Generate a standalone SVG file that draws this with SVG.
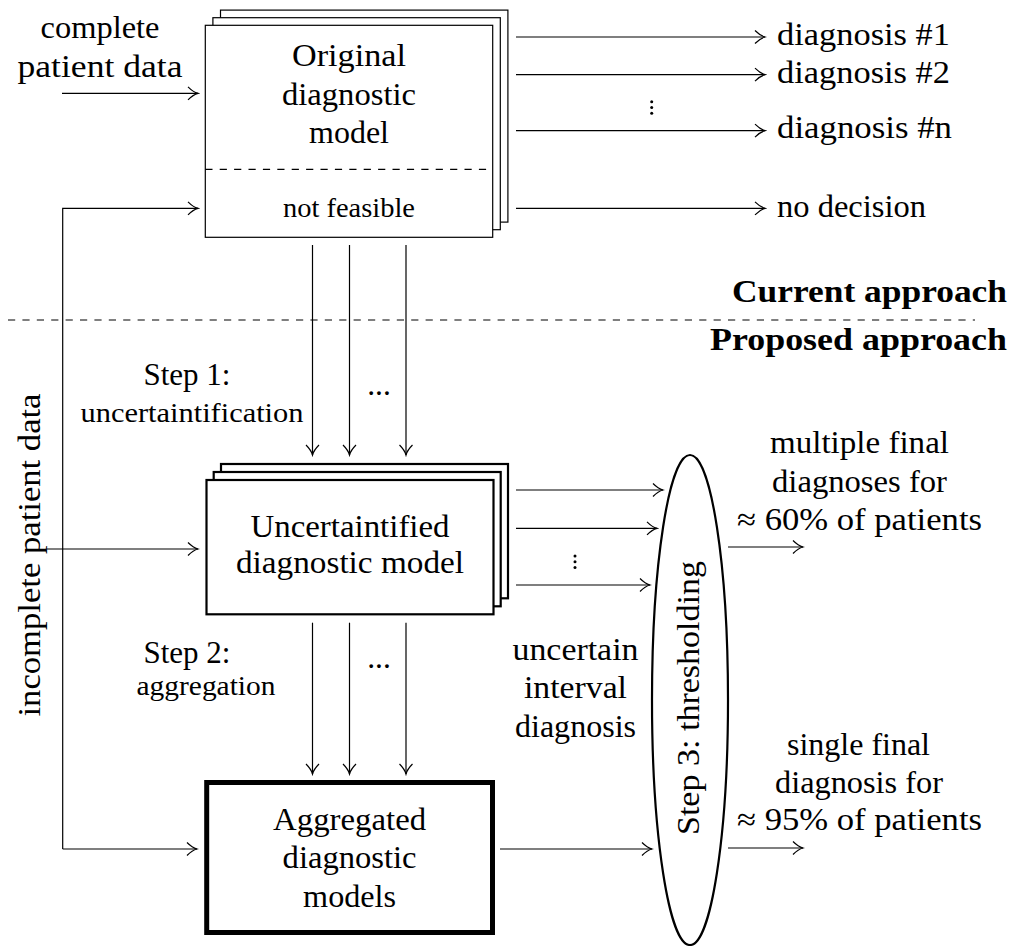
<svg xmlns="http://www.w3.org/2000/svg" width="1014" height="946" viewBox="0 0 1014 946">
<style>
text{font-family:"Liberation Serif","Times New Roman",serif;fill:#000}
.n{font-size:31.5px}
.s{font-size:28px}
.b{font-size:31.5px;font-weight:bold}
.m{text-anchor:middle}
.e{text-anchor:end}
.box{fill:#fff;stroke:#000}
.thin{stroke-width:1.2}
.thick{stroke-width:2.2}
.ultra{stroke-width:5}
.c{fill:none;stroke:#000;stroke-width:1.2;marker-end:url(#ah)}
.dash{fill:none;stroke:#000;stroke-width:1.2;stroke-dasharray:7.2 7.2}
</style>
<defs>
<marker id="ah" markerUnits="userSpaceOnUse" markerWidth="14" markerHeight="16" viewBox="-12 -8 14 16" refX="0" refY="0" orient="auto">
<path d="M-10,-6.5 C-6,-2.5 -1.5,-0.4 0,0 C-1.5,0.4 -6,2.5 -10,6.5" fill="none" stroke="#000" stroke-width="1.2"/>
</marker>
</defs>
<rect width="1014" height="946" fill="#fff"/>

<g id="original-model">
<rect class="box thin" x="220.5" y="10.1" width="287.4" height="212"/>
<rect class="box thin" x="212.9" y="17.7" width="287.4" height="212"/>
<rect class="box thin" x="205.3" y="25.3" width="287.4" height="212"/>
<line class="dash" x1="205.3" y1="169.3" x2="492.7" y2="169.3"/>
<text class="n m" x="349" y="66" textLength="114" lengthAdjust="spacingAndGlyphs">Original</text>
<text class="n m" x="349" y="104.5" textLength="134" lengthAdjust="spacingAndGlyphs">diagnostic</text>
<text class="n m" x="349" y="143" textLength="80" lengthAdjust="spacingAndGlyphs">model</text>
<text class="s m" x="349" y="216.7" textLength="132" lengthAdjust="spacingAndGlyphs">not feasible</text>
</g>

<g id="uncertaintified-model">
<rect class="box thick" x="221" y="464" width="287" height="134.3"/>
<rect class="box thick" x="213.7" y="472" width="287" height="134.3"/>
<rect class="box thick" x="206.5" y="480" width="287" height="134.3"/>
<text class="n m" x="350" y="536.7" textLength="199" lengthAdjust="spacingAndGlyphs">Uncertaintified</text>
<text class="n m" x="350" y="573.3" textLength="228" lengthAdjust="spacingAndGlyphs">diagnostic model</text>
</g>

<g id="aggregated-models">
<rect class="box ultra" x="206.7" y="782.5" width="285.8" height="150"/>
<text class="n m" x="349.6" y="830" textLength="153" lengthAdjust="spacingAndGlyphs">Aggregated</text>
<text class="n m" x="349.6" y="868.3" textLength="134" lengthAdjust="spacingAndGlyphs">diagnostic</text>
<text class="n m" x="349.6" y="906.7" textLength="93" lengthAdjust="spacingAndGlyphs">models</text>
</g>

<g id="thresholding">
<ellipse cx="690" cy="700" rx="38" ry="245" fill="#fff" stroke="#000" stroke-width="2.2"/>
<text class="n m" x="699" y="698" transform="rotate(-90 699 698)" textLength="274" lengthAdjust="spacingAndGlyphs">Step 3: thresholding</text>
</g>

<g id="labels">
<text class="n m" x="100" y="38.3" textLength="119" lengthAdjust="spacingAndGlyphs">complete</text>
<text class="n m" x="100" y="77.3" textLength="165" lengthAdjust="spacingAndGlyphs">patient data</text>
<text class="n" x="777" y="45" textLength="173" lengthAdjust="spacingAndGlyphs">diagnosis #1</text>
<text class="n" x="777" y="82.7" textLength="173" lengthAdjust="spacingAndGlyphs">diagnosis #2</text>
<text class="n" x="777" y="138.3" textLength="175" lengthAdjust="spacingAndGlyphs">diagnosis #n</text>
<text class="n" x="777" y="216.7" textLength="149" lengthAdjust="spacingAndGlyphs">no decision</text>
<text class="b e" x="1007" y="302" textLength="275" lengthAdjust="spacingAndGlyphs">Current approach</text>
<text class="b e" x="1007" y="350" textLength="297" lengthAdjust="spacingAndGlyphs">Proposed approach</text>
<text class="n m" x="187" y="385" textLength="87" lengthAdjust="spacingAndGlyphs">Step 1:</text>
<text class="s m" x="192" y="422" textLength="223" lengthAdjust="spacingAndGlyphs">uncertaintification</text>
<text class="n m" x="379" y="395">...</text>
<text class="n m" x="187" y="663" textLength="87" lengthAdjust="spacingAndGlyphs">Step 2:</text>
<text class="s m" x="206" y="695" textLength="139" lengthAdjust="spacingAndGlyphs">aggregation</text>
<text class="n m" x="379" y="668">...</text>
<text class="n m" x="575.5" y="660" textLength="126" lengthAdjust="spacingAndGlyphs">uncertain</text>
<text class="n m" x="575.5" y="698" textLength="103" lengthAdjust="spacingAndGlyphs">interval</text>
<text class="n m" x="575.5" y="737" textLength="121" lengthAdjust="spacingAndGlyphs">diagnosis</text>
<text class="n m" x="859.5" y="453" textLength="179" lengthAdjust="spacingAndGlyphs">multiple final</text>
<text class="n m" x="859.5" y="492" textLength="175" lengthAdjust="spacingAndGlyphs">diagnoses for</text>
<text class="n m" x="859.5" y="530" textLength="245" lengthAdjust="spacingAndGlyphs">≈ 60% of patients</text>
<text class="n m" x="858.5" y="755" textLength="143" lengthAdjust="spacingAndGlyphs">single final</text>
<text class="n m" x="859" y="793" textLength="168" lengthAdjust="spacingAndGlyphs">diagnosis for</text>
<text class="n m" x="859.5" y="830" textLength="245" lengthAdjust="spacingAndGlyphs">≈ 95% of patients</text>
<text class="n m" x="40" y="555" transform="rotate(-90 40 555)" textLength="323" lengthAdjust="spacingAndGlyphs">incomplete patient data</text>
<g fill="#000">
<circle cx="651.7" cy="101.7" r="1.5"/><circle cx="651.7" cy="107.5" r="1.5"/><circle cx="651.7" cy="113.3" r="1.5"/>
<circle cx="575" cy="556" r="1.5"/><circle cx="575" cy="561.8" r="1.5"/><circle cx="575" cy="567.6" r="1.5"/>
</g>
</g>

<line class="dash" x1="8" y1="320" x2="975" y2="320"/>

<g id="connectors">
<path class="c" d="M62,93.3 H198"/>
<path class="c" d="M62.7,849 V208.3 H198"/>
<path class="c" d="M62.7,849 H197"/>
<path class="c" d="M47,549 H198"/>
<path class="c" d="M516,37 H765"/>
<path class="c" d="M516,74.7 H765"/>
<path class="c" d="M516,130.7 H765"/>
<path class="c" d="M516,208.3 H765"/>
<path class="c" d="M312.5,245 V455"/>
<path class="c" d="M349.5,245 V455"/>
<path class="c" d="M406,245 V455"/>
<path class="c" d="M516,490 H663"/>
<path class="c" d="M516,528.3 H657"/>
<path class="c" d="M516,585 H650"/>
<path class="c" d="M312.5,622.7 V774"/>
<path class="c" d="M349.5,622.7 V774"/>
<path class="c" d="M406,622.7 V774"/>
<path class="c" d="M500,849 H652"/>
<path class="c" d="M728,547 H803"/>
<path class="c" d="M728,848 H803"/>
</g>
</svg>
